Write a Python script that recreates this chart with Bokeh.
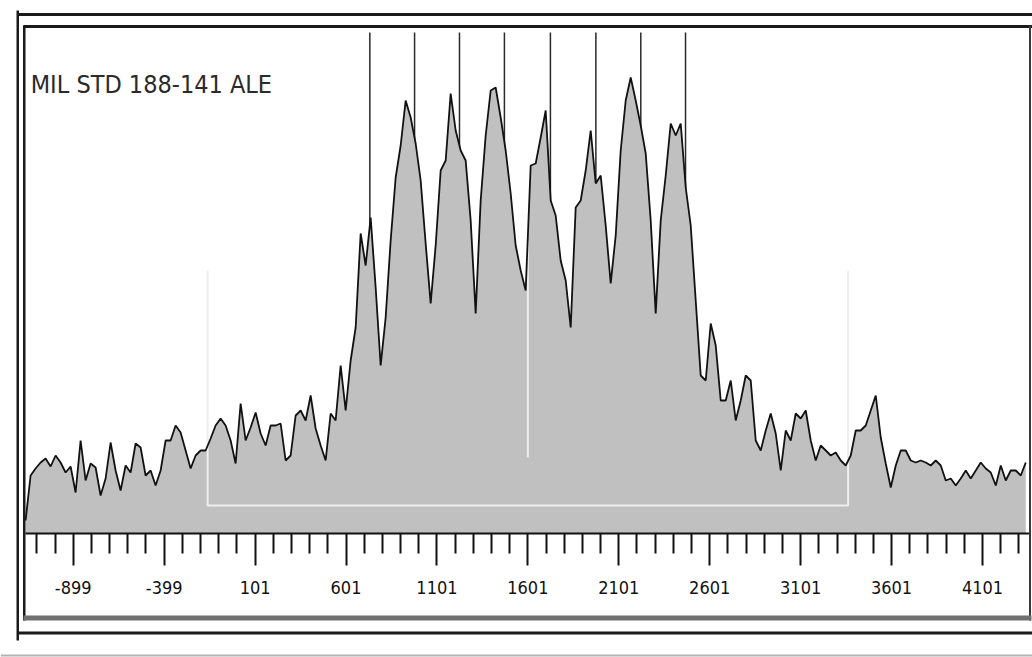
from bokeh.plotting import figure
from bokeh.models import Range1d, FixedTicker, Label, BoxAnnotation, CustomJSTickFormatter
from bokeh.embed import file_html
from bokeh.resources import INLINE

# ---------------- data ----------------
TITLE = "MIL STD 188-141 ALE"

FREQ_START = -1161.0   # first bin of the spectrum
FREQ_STEP = 27.5       # bin spacing

# spectrum level per bin (arbitrary units above the axis)
LEVELS = [
    13, 58, 65, 71, 75, 67, 78, 71, 61, 67,
    41, 93, 53, 70, 66, 38, 55, 91, 63, 43,
    68, 61, 90, 86, 58, 63, 48, 63, 93, 93,
    108, 101, 83, 65, 78, 83, 83, 95, 108, 115,
    108, 93, 70, 130, 93, 106, 121, 100, 88, 108,
    108, 110, 73, 78, 118, 123, 113, 138, 105, 88,
    73, 120, 113, 168, 123, 173, 206, 300, 268, 316,
    246, 168, 216, 293, 356, 388, 433, 416, 390, 353,
    290, 230, 288, 363, 373, 440, 403, 383, 373, 313,
    220, 333, 398, 443, 446, 416, 383, 340, 288, 263,
    243, 368, 370, 396, 423, 333, 318, 273, 253, 206,
    326, 333, 363, 403, 350, 358, 308, 250, 298, 383,
    433, 456, 433, 408, 380, 313, 220, 313, 358, 410,
    398, 410, 346, 308, 233, 158, 153, 210, 188, 133,
    133, 153, 113, 133, 158, 153, 93, 83, 103, 120,
    100, 63, 103, 93, 120, 115, 123, 93, 73, 88,
    83, 78, 81, 73, 68, 78, 103, 103, 108, 123,
    138, 96, 70, 46, 68, 83, 83, 73, 71, 73,
    71, 68, 73, 68, 53, 55, 48, 55, 63, 55,
    63, 71, 65, 61, 48, 68, 53, 63, 63, 58,
    71,
]

TONES = [732, 978, 1225, 1472, 1725, 1975, 2222, 2468]   # ALE 8-FSK tone markers
CENTER = 1601
BAND_LOW = -160
BAND_HIGH = 3362
BAND_FLOOR = 28
BAND_EDGE_TOP = 263
CENTER_BOTTOM = 76
CENTER_TOP = 293
TONE_TOP = 501

MAJOR_TICKS = [-899, -399, 101, 601, 1101, 1601, 2101, 2601, 3101, 3601, 4101]
MINOR_STEP = 100

AXIS_BOUNDS = (-1161, 4359)
X_START, X_END = -1299, 4376
Y_START, Y_END = -124, 533

freqs = [FREQ_START + FREQ_STEP * i for i in range(len(LEVELS))]
minor_ticks = [t for t in range(-1099, 4350, MINOR_STEP) if t not in MAJOR_TICKS]

FONT = "DejaVu Sans Condensed"

p = figure(width=1032, height=657, output_backend="svg", toolbar_location=None,
           x_range=Range1d(X_START, X_END), y_range=Range1d(Y_START, Y_END),
           y_axis_location=None,
           min_border_left=0, min_border_right=0, min_border_top=0, min_border_bottom=0,
           outline_line_color=None, background_fill_color="white", border_fill_color="white")
p.grid.visible = False

ax = p.xaxis[0]
ax.fixed_location = 0
ax.bounds = AXIS_BOUNDS
ax.ticker = FixedTicker(ticks=MAJOR_TICKS, minor_ticks=minor_ticks)
ax.formatter = CustomJSTickFormatter(code="return tick.toFixed(0)")
ax.axis_line_color = "#111111"
ax.axis_line_width = 2
ax.major_tick_line_color = "#111111"
ax.major_tick_line_width = 2
ax.minor_tick_line_color = "#111111"
ax.minor_tick_line_width = 2
ax.major_tick_in = 0
ax.major_tick_out = 32
ax.minor_tick_in = 0
ax.minor_tick_out = 20
ax.major_label_standoff = 15
ax.major_label_text_font = FONT
ax.major_label_text_font_size = "18px"
ax.major_label_text_color = "#111111"

# tone markers (lower part hidden under the spectrum fill)
p.segment(x0=TONES, y0=[0] * len(TONES), x1=TONES, y1=[TONE_TOP] * len(TONES),
          line_color="#2a2a2a", line_width=1.5)

p.varea(x=freqs, y1=[0] * len(LEVELS), y2=LEVELS, fill_color="#c0c0c0")

# pass-band bracket
p.multi_line(xs=[[BAND_LOW, BAND_LOW, BAND_HIGH, BAND_HIGH], [CENTER, CENTER]],
             ys=[[BAND_EDGE_TOP, BAND_FLOOR, BAND_FLOOR, BAND_EDGE_TOP], [CENTER_BOTTOM, CENTER_TOP]],
             line_color="#eeeeee", line_width=2)

p.line(freqs, LEVELS, line_color="#111111", line_width=1.8)

p.add_layout(Label(x=-1133, y=449, text=TITLE, text_font=FONT,
                   text_font_size="25px", text_color="#2b2b2b", text_baseline="alphabetic"))

# window chrome (canvas pixels)
def bar(l, r, t, b, color):
    p.add_layout(BoxAnnotation(left=l, right=r, top=t, bottom=b,
                               left_units="canvas", right_units="canvas",
                               top_units="canvas", bottom_units="canvas",
                               fill_color=color, fill_alpha=1.0, line_alpha=0.0,
                               level="overlay"))

bar(17, 1032, 12.5, 15.5, "#1a1a1a")     # outer top
bar(16, 18.5, 10, 640, "#1a1a1a")        # outer left
bar(23, 1032, 24.5, 27.5, "#1a1a1a")     # inner top
bar(22.5, 25, 25, 620, "#1a1a1a")        # inner left
bar(1028.5, 1030.5, 25, 620, "#3a3a3a")  # inner right
bar(23, 1031, 615, 620, "#707070")       # bottom grey bar
bar(17, 1032, 631, 634, "#1a1a1a")       # outer bottom
bar(0, 1032, 654, 656, "#b4b4b4")        # window edge

open("out.html", "w").write(file_html(p, INLINE))
